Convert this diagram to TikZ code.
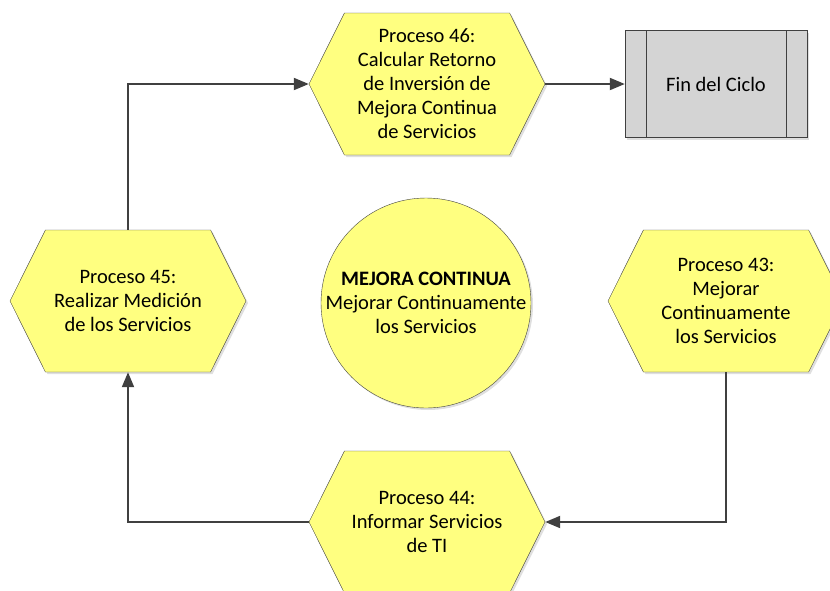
\documentclass[tikz,border=0pt]{standalone}
\usepackage{fontspec}
\setmainfont{Carlito}
\usetikzlibrary{shapes.symbols,arrows.meta,shadows}
\definecolor{procfill}{RGB}{255,255,128}
\definecolor{endfill}{RGB}{212,212,212}
\definecolor{linegray}{RGB}{64,64,64}
\tikzset{
  proc/.style={signal,signal to=east and west,signal pointer angle=127,
    draw=linegray,fill=procfill,minimum width=236pt,minimum height=142pt,
    inner sep=0,align=center,font=\fontsize{20.5}{24}\selectfont,
    drop shadow={shadow xshift=2pt,shadow yshift=-2pt,opacity=0.25}},
  flow/.style={draw=linegray,line width=2pt,-{Triangle[length=15pt,width=12pt]}}
}
\begin{document}
\begin{tikzpicture}[x=1pt,y=-1pt]
  \useasboundingbox (0,0) rectangle (830,590);
  %% Upper row.
  \node[proc] (P46) at (427,84) {Proceso 46:\\Calcular Retorno\\de Inversión de\\Mejora Continua\\de Servicios};
  \node[draw=linegray,fill=endfill,minimum width=182pt,minimum height=107pt,inner sep=0,
    font=\fontsize{20.5}{24}\selectfont,
    drop shadow={shadow xshift=2pt,shadow yshift=-2pt,opacity=0.25}] (Fin) at (716,84) {Fin del Ciclo};
  \draw[linegray] ([xshift=21pt]Fin.north west) -- ([xshift=21pt]Fin.south west);
  \draw[linegray] ([xshift=-21pt]Fin.north east) -- ([xshift=-21pt]Fin.south east);
  %% Middle row.
  \node[proc] (P45) at (128,301) {Proceso 45:\\Realizar Medición\\de los Servicios};
  \node[circle,draw=linegray,fill=procfill,minimum size=210pt,inner sep=0,align=center,
    font=\fontsize{20.5}{24}\selectfont,
    drop shadow={shadow xshift=2pt,shadow yshift=-2pt,opacity=0.25}] (MC) at (426,303)
    {\textbf{MEJORA CONTINUA}\\Mejorar Continuamente\\los Servicios};
  \node[proc] (P43) at (726,301) {Proceso 43:\\Mejorar\\Continuamente\\los Servicios};
  %% Lower row.
  \node[proc] (P44) at (427,522) {Proceso 44:\\Informar Servicios\\de TI};

  \draw[flow] (P45.north) |- (P46.west);
  \draw[flow] (P46.east) -- (Fin.west);
  \draw[flow] (P43.south) |- (P44.east);
  \draw[flow] (P44.west) -| (P45.south);
\end{tikzpicture}
\end{document}
